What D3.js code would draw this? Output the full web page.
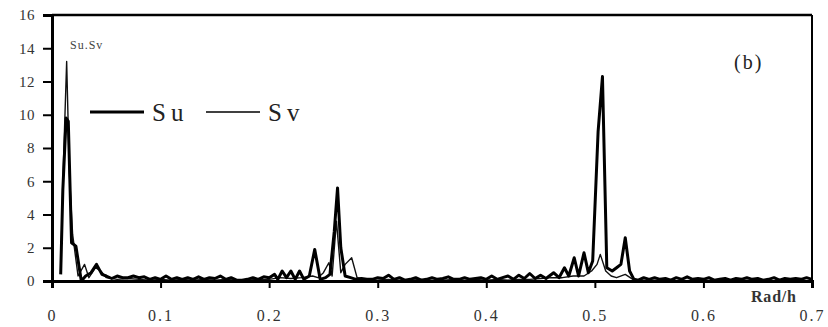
<!DOCTYPE html>
<html>
<head>
<meta charset="utf-8">
<script src="https://cdn.jsdelivr.net/npm/d3@7"></script>
<style>
  body { margin: 0; background: #fff; }
  svg { display: block; }
  text { font-family: "Liberation Serif", "DejaVu Serif", serif; }
</style>
</head>
<body>
<svg id="chart" width="828" height="327"></svg>
<script>
// frequency (rad/h) and spectral values
const suFreq = [0.008, 0.010, 0.013, 0.015, 0.018, 0.022, 0.027, 0.031, 0.036, 0.041, 0.046, 0.050,
  0.055, 0.060, 0.065, 0.070, 0.075, 0.080, 0.085, 0.090, 0.095, 0.100, 0.105, 0.110, 0.115, 0.120,
  0.125, 0.130, 0.135, 0.140, 0.145, 0.150, 0.155, 0.160, 0.165, 0.170, 0.175, 0.180, 0.185, 0.190,
  0.195, 0.200, 0.205, 0.208, 0.212, 0.216, 0.220, 0.224, 0.228, 0.232, 0.237, 0.242, 0.247, 0.252,
  0.256, 0.260, 0.263, 0.266, 0.270, 0.275, 0.280, 0.285, 0.290, 0.295, 0.300, 0.305, 0.310, 0.315,
  0.320, 0.325, 0.330, 0.335, 0.340, 0.345, 0.350, 0.355, 0.360, 0.365, 0.370, 0.375, 0.380, 0.385,
  0.390, 0.395, 0.400, 0.405, 0.410, 0.415, 0.420, 0.425, 0.430, 0.435, 0.440, 0.445, 0.450, 0.455,
  0.462, 0.467, 0.472, 0.476, 0.481, 0.485, 0.490, 0.494, 0.498, 0.503, 0.507, 0.511, 0.516, 0.520,
  0.524, 0.528, 0.532, 0.536, 0.540, 0.545, 0.550, 0.555, 0.560, 0.565, 0.570, 0.575, 0.580, 0.585,
  0.590, 0.595, 0.600, 0.605, 0.610, 0.615, 0.620, 0.625, 0.630, 0.635, 0.640, 0.645, 0.650, 0.655,
  0.660, 0.665, 0.670, 0.675, 0.680, 0.685, 0.690, 0.695, 0.700];
const suVal = [0.4, 5.5, 9.8, 9.6, 2.3, 2.1, 0.0, 0.3, 0.5, 1.0, 0.4, 0.3,
  0.15, 0.3, 0.2, 0.2, 0.3, 0.2, 0.25, 0.1, 0.2, 0.1, 0.3, 0.1, 0.2, 0.1,
  0.2, 0.1, 0.25, 0.1, 0.2, 0.15, 0.3, 0.1, 0.2, 0.05, 0.05, 0.1, 0.2, 0.1,
  0.25, 0.2, 0.4, 0.1, 0.6, 0.2, 0.6, 0.1, 0.6, 0.1, 0.3, 1.9, 0.1, 0.2,
  0.4, 3.0, 5.6, 2.0, 0.3, 0.2, 0.1, 0.15, 0.1, 0.1, 0.2, 0.15, 0.35, 0.1,
  0.2, 0.05, 0.1, 0.2, 0.05, 0.1, 0.2, 0.1, 0.15, 0.25, 0.1, 0.1, 0.2, 0.1,
  0.15, 0.2, 0.1, 0.3, 0.1, 0.2, 0.3, 0.1, 0.35, 0.15, 0.45, 0.15, 0.35, 0.15,
  0.5, 0.2, 0.8, 0.3, 1.4, 0.3, 1.7, 0.5, 1.2, 9.0, 12.3, 0.8, 0.6, 0.8,
  1.0, 2.6, 0.6, 0.1, 0.05, 0.2, 0.1, 0.2, 0.1, 0.15, 0.05, 0.2, 0.1, 0.25,
  0.1, 0.15, 0.1, 0.2, 0.05, 0.1, 0.15, 0.05, 0.15, 0.1, 0.2, 0.1, 0.15, 0.05,
  0.1, 0.2, 0.05, 0.15, 0.1, 0.15, 0.1, 0.2, 0.1];

const svFreq = [0.008, 0.010, 0.0135, 0.016, 0.019, 0.024, 0.030, 0.034, 0.040, 0.045, 0.050, 0.060,
  0.070, 0.080, 0.090, 0.100, 0.110, 0.120, 0.130, 0.140, 0.150, 0.160, 0.170, 0.180, 0.190, 0.200,
  0.210, 0.220, 0.230, 0.240, 0.245, 0.250, 0.255, 0.258, 0.262, 0.266, 0.270, 0.276, 0.281, 0.290,
  0.300, 0.310, 0.320, 0.330, 0.340, 0.350, 0.360, 0.370, 0.380, 0.390, 0.400, 0.410, 0.420, 0.430,
  0.440, 0.450, 0.460, 0.470, 0.480, 0.490, 0.497, 0.502, 0.505, 0.510, 0.515, 0.520, 0.528, 0.535,
  0.545, 0.560, 0.580, 0.600, 0.620, 0.640, 0.660, 0.680, 0.700];
const svVal = [0.5, 6.0, 13.2, 6.5, 2.8, 0.3, 1.0, 0.2, 0.8, 0.6, 0.2, 0.1,
  0.15, 0.1, 0.05, 0.1, 0.05, 0.1, 0.05, 0.1, 0.05, 0.1, 0.05, 0.05, 0.1, 0.1,
  0.2, 0.15, 0.2, 0.3, 0.2, 0.5, 1.1, 0.3, 3.6, 0.5, 1.0, 1.4, 0.2, 0.1,
  0.05, 0.1, 0.05, 0.05, 0.1, 0.05, 0.05, 0.1, 0.05, 0.1, 0.05, 0.1, 0.05, 0.1,
  0.1, 0.15, 0.2, 0.2, 0.3, 0.3, 0.6, 1.0, 1.6, 0.6, 0.3, 0.2, 0.4, 0.1,
  0.05, 0.05, 0.02, 0.05, 0.02, 0.05, 0.02, 0.05, 0.02];

const xTicks = [0, 0.1, 0.2, 0.3, 0.4, 0.5, 0.6, 0.7];
const yTicks = [0, 2, 4, 6, 8, 10, 12, 14, 16];

const svg = d3.select('#chart');
const margin = { left: 52, right: 16, top: 15, bottom: 46 };
const width = 828 - margin.left - margin.right;
const height = 327 - margin.top - margin.bottom;

const x = d3.scaleLinear().domain([0, 0.7]).range([margin.left, margin.left + width]);
const y = d3.scaleLinear().domain([0, 16]).range([margin.top + height, margin.top]);

// frame: top and right borders
svg.append('line')
  .attr('x1', x(0)).attr('x2', x(0.7))
  .attr('y1', y(16)).attr('y2', y(16))
  .attr('stroke', '#000').attr('stroke-width', 2.5);
svg.append('line')
  .attr('x1', x(0.7)).attr('x2', x(0.7))
  .attr('y1', y(16)).attr('y2', y(0))
  .attr('stroke', '#000').attr('stroke-width', 2);

const line = d3.line().x(d => x(d[0])).y(d => y(d[1]));

const suData = suFreq.map((f, i) => [f, suVal[i]]);
const svData = svFreq.map((f, i) => [f, svVal[i]]);

svg.append('path')
  .datum(svData)
  .attr('d', line)
  .attr('fill', 'none')
  .attr('stroke', '#111')
  .attr('stroke-width', 1.4)
  .attr('stroke-linejoin', 'round');

svg.append('path')
  .datum(suData)
  .attr('d', line)
  .attr('fill', 'none')
  .attr('stroke', '#000')
  .attr('stroke-width', 3)
  .attr('stroke-linejoin', 'round');

// axes
const xAxis = svg.append('g')
  .attr('transform', `translate(0,${y(0)})`)
  .call(d3.axisBottom(x).tickValues(xTicks).tickSize(7).tickPadding(22).tickFormat(d3.format('.1f')));
xAxis.selectAll('text').text(d => d === 0 ? '0' : d3.format('.1f')(d));

const yAxis = svg.append('g')
  .attr('transform', `translate(${x(0)},0)`)
  .call(d3.axisLeft(y).tickValues(yTicks).tickSize(9).tickPadding(8));

[xAxis, yAxis].forEach(g => {
  g.select('.domain').attr('stroke', '#000').attr('stroke-width', 3);
  g.selectAll('.tick line').attr('stroke', '#000').attr('stroke-width', 2);
  g.selectAll('.tick text')
    .attr('fill', '#333')
    .style('font-family', '"Liberation Serif", serif')
    .style('font-size', '15px')
    .attr('letter-spacing', 0.5);
});
xAxis.selectAll('.tick text').style('font-size', '16px').attr('letter-spacing', 2);

// labels
svg.append('text')
  .attr('x', 70).attr('y', 49)
  .attr('font-size', 12).attr('fill', '#444')
  .attr('letter-spacing', 1)
  .text('Su.Sv');

svg.append('text')
  .attr('x', 734).attr('y', 69)
  .attr('font-size', 20).attr('fill', '#222')
  .attr('letter-spacing', 2)
  .text('(b)');

svg.append('text')
  .attr('x', 751).attr('y', 302)
  .attr('font-size', 16).attr('font-weight', 'bold').attr('fill', '#333')
  .attr('letter-spacing', 0.8)
  .text('Rad/h');

// legend
const legend = [
  { name: 'Su', x0: 90, w: 3 },
  { name: 'Sv', x0: 206, w: 1.5 }
];
legend.forEach(l => {
  svg.append('line')
    .attr('x1', l.x0).attr('x2', l.x0 + 54)
    .attr('y1', 112).attr('y2', 112)
    .attr('stroke', '#000').attr('stroke-width', l.w);
  svg.append('text')
    .attr('x', l.x0 + 62).attr('y', 121)
    .attr('font-size', 25).attr('fill', '#222')
    .attr('letter-spacing', 5)
    .text(l.name);
});
</script>
</body>
</html>
